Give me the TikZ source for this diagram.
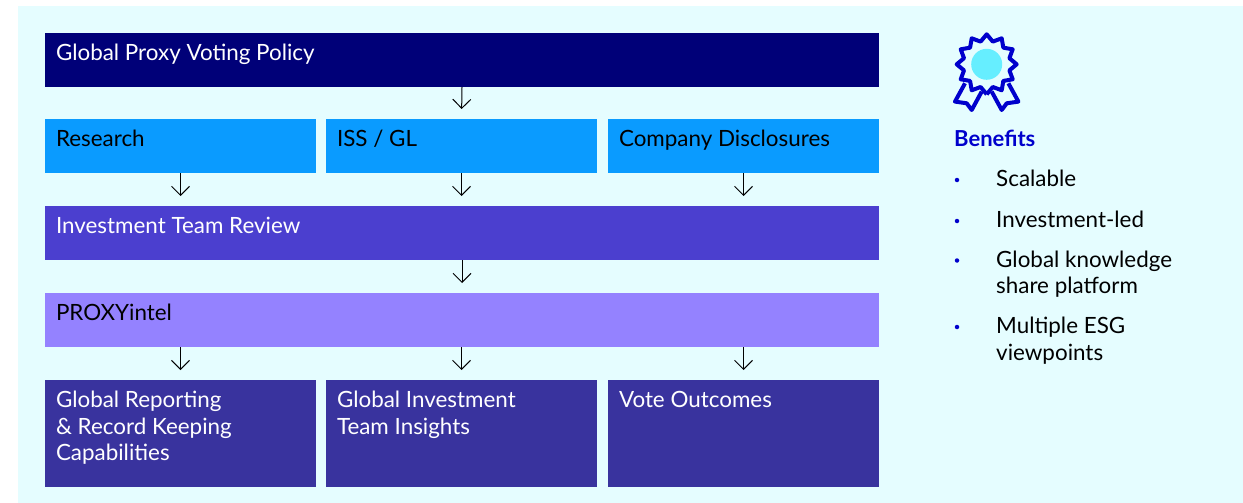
\documentclass[tikz,border=0pt]{standalone}
\usepackage{fontspec}
\setmainfont{Lato}
\usetikzlibrary{arrows.meta}
\definecolor{bgCyan}{HTML}{E5FDFF}
\definecolor{policyBlue}{HTML}{000078}
\definecolor{sourceBlue}{HTML}{0A9BFF}
\definecolor{reviewBlue}{HTML}{4B3FCF}
\definecolor{proxyBlue}{HTML}{9482FF}
\definecolor{outBlue}{HTML}{39339E}
\definecolor{benefitBlue}{HTML}{0000CC}
\definecolor{badgeCyan}{HTML}{66EEFF}
\tikzset{
    flowbox/.style={anchor=north west, inner xsep=11pt, inner ysep=0pt, outer sep=0pt, font=\fontsize{22.4}{26.5}\selectfont},
    flowarrow/.style={-{Straight Barb[length=9pt,width=18pt,line width=1pt]}, line width=1pt, black, shorten >=10pt},
    benefititem/.style={anchor=north west, inner sep=0pt, align=left, font=\fontsize{22.4}{26.5}\selectfont},
    benefitdot/.style={circle, fill=benefitBlue, inner sep=0pt, minimum size=4.5pt},
    badgeline/.style={draw=benefitBlue, line width=4pt, line join=round}
}
\newcommand*{\flowBox}[8]{% name, x, y, w, h, fill, text colour, text
    \node (#1) at (#2,#3) [flowbox, fill=#6, text=#7] {\parbox[t][#5pt][t]{\dimexpr#4pt-22pt\relax}{\raggedright\rule{0pt}{27.5pt}#8}};
}
\newcommand*{\benefit}[3]{% name, baseline y, text
    \node (#1) at (996,#2-20) [benefititem] {\rule{0pt}{20pt}#3};
    \node (#1dot) at (957,#2-6.5) [benefitdot] {};
}
\begin{document}
\begin{tikzpicture}[x=1pt,y=-1pt]
\useasboundingbox (0,0) rectangle (1243,503);
\fill [bgCyan] (18,6) rectangle (1243,503);
% flow boxes
\flowBox{policy}{45}{33}{834}{54}{policyBlue}{white}{Global Proxy Voting Policy}
\flowBox{research}{45}{119}{271}{54}{sourceBlue}{black}{Research}
\flowBox{issgl}{326}{119}{271}{54}{sourceBlue}{black}{ISS / GL}
\flowBox{company}{608}{119}{271}{54}{sourceBlue}{black}{Company Disclosures}
\flowBox{review}{45}{206}{834}{54}{reviewBlue}{white}{Investment Team Review}
\flowBox{proxy}{45}{293}{834}{54}{proxyBlue}{black}{PROXYintel}
\flowBox{reporting}{45}{380}{271}{107}{outBlue}{white}{Global Reporting\\\& Record Keeping\\Capabilities}
\flowBox{insights}{326}{380}{271}{107}{outBlue}{white}{Global Investment\\Team Insights}
\flowBox{outcomes}{608}{380}{271}{107}{outBlue}{white}{Vote Outcomes}
% arrows
\draw [flowarrow] (policy.south) -- (issgl.north);
\foreach \src in {research,issgl,company}
    \draw [flowarrow] (\src.south) -- (\src.south |- review.north);
\draw [flowarrow] (review.south) -- (proxy.north);
\foreach \dst in {reporting,insights,outcomes}
    \draw [flowarrow] (\dst.north |- proxy.south) -- (\dst.north);
% badge
\begin{scope}[shift={(986.7,64.3)}]
    \draw [badgeline] (-21.7,19) -- (-31.7,37.3) -- (-20,39) -- (-15,45.7) -- (-5,27.3);
    \draw [badgeline] (21.7,19) -- (31.7,37.3) -- (20,39) -- (15,45.7) -- (5,27.3);
    \draw [badgeline, fill=bgCyan] (90:30)
        \foreach \a in {0,30,...,330} { -- (105+\a:23.5) -- (120+\a:30) };
    \fill [badgeCyan] (0,0) circle (15.5);
\end{scope}
% benefits
\node (benefits) at (954,126.5) [benefititem, text=benefitBlue, font=\fontsize{22}{26.5}\selectfont\bfseries] {\rule{0pt}{20pt}Benefits};
\benefit{scalable}{186.5}{Scalable}
\benefit{invled}{227.5}{Investment-led}
\benefit{knowledge}{267}{Global knowledge\\share platform}
\benefit{viewpoints}{333.5}{Multiple ESG\\viewpoints}
\end{tikzpicture}
\end{document}
